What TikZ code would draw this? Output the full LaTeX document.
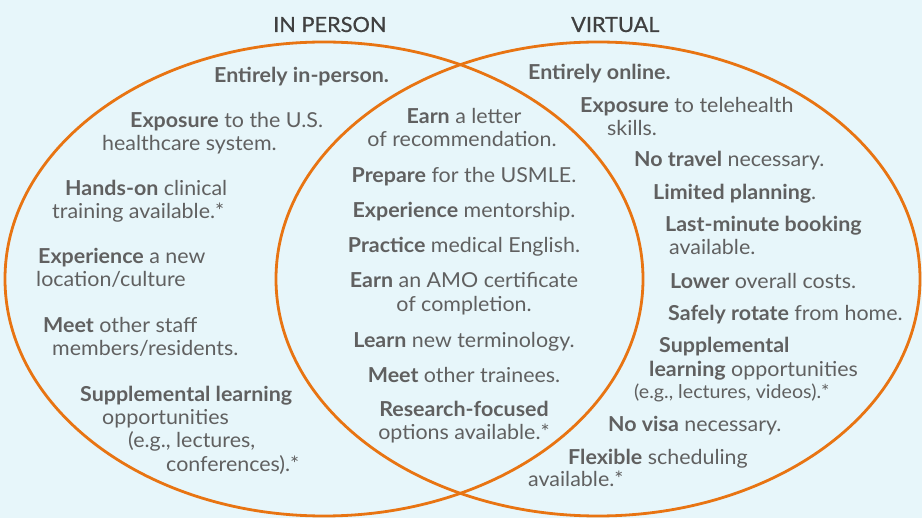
\documentclass[tikz,border=0pt]{standalone}
\usepackage{fontspec}
\setmainfont{Lato}[FakeStretch=1.04]
\newfontfamily\ttlfont{Lato}[FakeStretch=1.04,FakeBold=0.7]
\definecolor{bgc}{RGB}{231,246,250}
\definecolor{orng}{RGB}{232,116,18}
\definecolor{txt}{RGB}{96,96,96}
\definecolor{ttl}{RGB}{64,64,64}
\newcommand\hb[1]{\textbf{#1}}
\begin{document}
\begin{tikzpicture}[x=1pt,y=-1pt,
  ring/.style={draw=orng,line width=2.8pt},
  tl/.style={anchor=base west,inner sep=0pt,text=txt,font=\fontsize{20.6}{24}\selectfont},
  tm/.style={anchor=base,inner sep=0pt,text=txt,font=\fontsize{20.6}{24}\selectfont},
  ts/.style={anchor=base west,inner sep=0pt,text=txt,font=\fontsize{18.9}{22}\selectfont},
  title/.style={anchor=base west,inner sep=0pt,text=ttl,font=\ttlfont\fontsize{20.9}{24}\selectfont}]
\fill[bgc] (0,0) rectangle (922,518);
\useasboundingbox (0,0) rectangle (922,518);
\draw[ring] (324,279) ellipse [x radius=319pt, y radius=237pt];
\draw[ring] (598,279) ellipse [x radius=322pt, y radius=237pt];
% titles
\node[title] (tin) at (273,32) {IN PERSON};
\node[title] (tvi) at (571,32) {VIRTUAL};
% left
\node[tl] (lA)  at (214,83)  {\hb{Entirely in-person.}};
\node[tl] (lB1) at (130,128) {\hb{Exposure} to the U.S.};
\node[tl] (lB2) at (102,151) {healthcare system.};
\node[tl] (lC1) at (65,196)  {\hb{Hands-on} clinical};
\node[tl] (lC2) at (52,219)  {training available.*};
\node[tl] (lD1) at (38,264)  {\hb{Experience} a new};
\node[tl] (lD2) at (36,287)  {location/culture};
\node[tl] (lE1) at (43,333)  {\hb{Meet} other staff};
\node[tl] (lE2) at (52,356)  {members/residents.};
\node[tl] (lF1) at (80,402)  {\hb{Supplemental learning}};
\node[tl] (lF2) at (102,425) {opportunities};
\node[tl] (lF3) at (128,448) {(e.g., lectures,};
\node[tl] (lF4) at (166,472) {conferences).*};
% middle
\node[tm] (m1)  at (464,124) {\hb{Earn} a letter};
\node[tm] (m2)  at (462,147) {of recommendation.};
\node[tm] (m3)  at (464,183) {\hb{Prepare} for the USMLE.};
\node[tm] (m4)  at (464,218) {\hb{Experience} mentorship.};
\node[tm] (m5)  at (464,253) {\hb{Practice} medical English.};
\node[tm] (m6)  at (464,288) {\hb{Earn} an AMO certificate};
\node[tm] (m7)  at (464,312) {of completion.};
\node[tm] (m8)  at (464,348) {\hb{Learn} new terminology.};
\node[tm] (m9)  at (464,383) {\hb{Meet} other trainees.};
\node[tm] (m10) at (464,417) {\hb{Research-focused}};
\node[tm] (m11) at (464,440) {options available.*};
% right
\node[tl] (r1)  at (528,80)  {\hb{Entirely online.}};
\node[tl] (r2)  at (580,113) {\hb{Exposure} to telehealth};
\node[tl] (r3)  at (607,136) {skills.};
\node[tl] (r4)  at (634,167) {\hb{No travel} necessary.};
\node[tl] (r5)  at (653,200) {\hb{Limited planning}.};
\node[tl] (r6)  at (665,232) {\hb{Last-minute booking}};
\node[tl] (r7)  at (669,255) {available.};
\node[tl] (r8)  at (670,289) {\hb{Lower} overall costs.};
\node[tl] (r9)  at (668,321) {\hb{Safely rotate} from home.};
\node[tl] (r10) at (659,353) {\hb{Supplemental}};
\node[tl] (r11) at (649,377) {\hb{learning} opportunities};
\node[ts] (r12) at (634,399) {(e.g., lectures, videos).*};
\node[tl] (r13) at (608,432) {\hb{No visa} necessary.};
\node[tl] (r14) at (568,465) {\hb{Flexible} scheduling};
\node[tl] (r15) at (528,487) {available.*};
\end{tikzpicture}
\end{document}
